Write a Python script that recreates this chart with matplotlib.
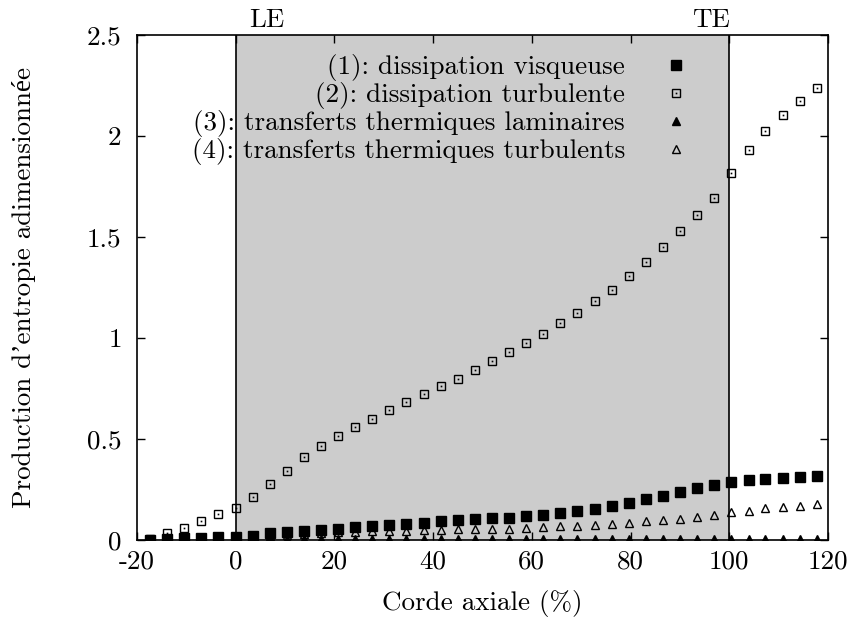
import matplotlib
matplotlib.use("Agg")
import matplotlib.pyplot as plt
from matplotlib.legend_handler import HandlerTuple

# Police proche de LaTeX (Computer Modern), Liberation Serif pour les accents
plt.rcParams["font.family"] = ["cmr10", "Liberation Serif", "DejaVu Serif"]
plt.rcParams["mathtext.fontset"] = "cm"
plt.rcParams["axes.formatter.use_mathtext"] = True

# Position le long de la corde axiale (%)
corde = [-17.4, -13.9, -10.5, -7.0, -3.5, 0.0, 3.4, 6.9, 10.3, 13.8,
         17.3, 20.7, 24.2, 27.7, 31.1, 34.6, 38.1, 41.5, 45.0, 48.4,
         51.9, 55.4, 58.8, 62.3, 65.8, 69.2, 72.7, 76.2, 79.6, 83.1,
         86.5, 90.0, 93.5, 96.9, 100.4, 103.9, 107.3, 110.8, 114.3, 117.7]

# (1) dissipation visqueuse
diss_visq = [0.000, 0.003, 0.008, 0.012, 0.015, 0.017, 0.021, 0.033, 0.038, 0.045,
             0.050, 0.054, 0.063, 0.069, 0.074, 0.079, 0.085, 0.092, 0.097, 0.102,
             0.107, 0.110, 0.119, 0.124, 0.135, 0.145, 0.153, 0.168, 0.185, 0.203,
             0.219, 0.238, 0.257, 0.274, 0.289, 0.299, 0.304, 0.307, 0.312, 0.318]

# (2) dissipation turbulente
diss_turb = [0.005, 0.033, 0.061, 0.094, 0.127, 0.160, 0.214, 0.276, 0.343, 0.409,
             0.464, 0.513, 0.559, 0.600, 0.642, 0.682, 0.721, 0.761, 0.799, 0.843,
             0.886, 0.929, 0.974, 1.020, 1.073, 1.124, 1.182, 1.239, 1.307, 1.376,
             1.449, 1.528, 1.609, 1.692, 1.817, 1.931, 2.025, 2.104, 2.175, 2.239]

# (3) transferts thermiques laminaires
therm_lam = [0.003, 0.003, 0.003, 0.004, 0.004, 0.004, 0.004, 0.004, 0.004, 0.005,
             0.005, 0.005, 0.005, 0.005, 0.005, 0.005, 0.005, 0.005, 0.005, 0.005,
             0.005, 0.005, 0.005, 0.005, 0.005, 0.005, 0.005, 0.005, 0.005, 0.005,
             0.006, 0.006, 0.006, 0.006, 0.006, 0.006, 0.006, 0.006, 0.006, 0.006]

# (4) transferts thermiques turbulents
therm_turb = [0.000, 0.002, 0.004, 0.006, 0.009, 0.012, 0.016, 0.022, 0.027, 0.031,
              0.035, 0.038, 0.040, 0.043, 0.045, 0.046, 0.050, 0.050, 0.053, 0.053,
              0.056, 0.056, 0.059, 0.064, 0.069, 0.071, 0.076, 0.079, 0.086, 0.092,
              0.099, 0.106, 0.115, 0.122, 0.137, 0.145, 0.157, 0.162, 0.168, 0.176]

labels = ["(1): dissipation visqueuse",
          "(2): dissipation turbulente",
          "(3): transferts thermiques laminaires",
          "(4): transferts thermiques turbulents"]

x_ticks = [-20, 0, 20, 40, 60, 80, 100, 120]
x_ticklabels = ["-20", "0", "20", "40", "60", "80", "100", "120"]
y_ticks = [0, 0.5, 1, 1.5, 2, 2.5]
y_ticklabels = ["0", "0.5", "1", "1.5", "2", "2.5"]

fs = 19.5

fig = plt.figure(figsize=(8.58, 6.23), dpi=100)
ax = fig.add_axes([0.1597, 0.1332, 0.8053, 0.8106])

# Zone de l'aube entre bord d'attaque et bord de fuite
ax.axvspan(0, 100, color="#cccccc", zorder=0, lw=0)
ax.axvline(0, color="black", lw=1.2, zorder=1)
ax.axvline(100, color="black", lw=1.2, zorder=1)

h1, = ax.plot(corde, diss_visq, ls="none", marker="s", ms=6.8,
              mfc="black", mec="black", zorder=3)
h2a, = ax.plot(corde, diss_turb, ls="none", marker="s", ms=6.2,
               mfc="none", mec="black", mew=1.0, zorder=3)
h2b, = ax.plot(corde, diss_turb, ls="none", marker="s", ms=1.2,
               mfc="black", mec="none", zorder=3)
h3, = ax.plot(corde, therm_lam, ls="none", marker="^", ms=5.5,
              mfc="black", mec="black", zorder=3)
h4, = ax.plot(corde, therm_turb, ls="none", marker="^", ms=6.3,
              mfc="none", mec="black", mew=1.0, zorder=3)

ax.legend([h1, (h2a, h2b), h3, h4], labels, loc="upper right",
          bbox_to_anchor=(0.8157, 0.962), markerfirst=False, frameon=False,
          fontsize=fs, handlelength=1.8, handletextpad=1.0,
          labelspacing=0.04, borderpad=0, borderaxespad=0,
          handler_map={tuple: HandlerTuple(ndivide=1)})

ax.text(6.2, 1.03, "LE", transform=ax.get_xaxis_transform(),
        ha="center", va="center", fontsize=fs)
ax.text(96.3, 1.03, "TE", transform=ax.get_xaxis_transform(),
        ha="center", va="center", fontsize=fs)

ax.set_xlim(-20, 120)
ax.set_ylim(0, 2.5)
ax.set_xticks(x_ticks)
ax.set_xticklabels(x_ticklabels)
ax.set_yticks(y_ticks)
ax.set_yticklabels(y_ticklabels)
ax.tick_params(direction="in", length=6, width=1, top=True, right=True,
               labelsize=fs)
ax.tick_params(axis="x", pad=7)
ax.tick_params(axis="y", pad=11)
for sp in ax.spines.values():
    sp.set_linewidth(1.2)

ax.set_xlabel("Corde axiale (%)", fontsize=fs, labelpad=12)
ax.set_ylabel("Production d\u2019entropie adimensionnée", fontsize=fs, labelpad=37)

fig.savefig("out.png", dpi=100)
